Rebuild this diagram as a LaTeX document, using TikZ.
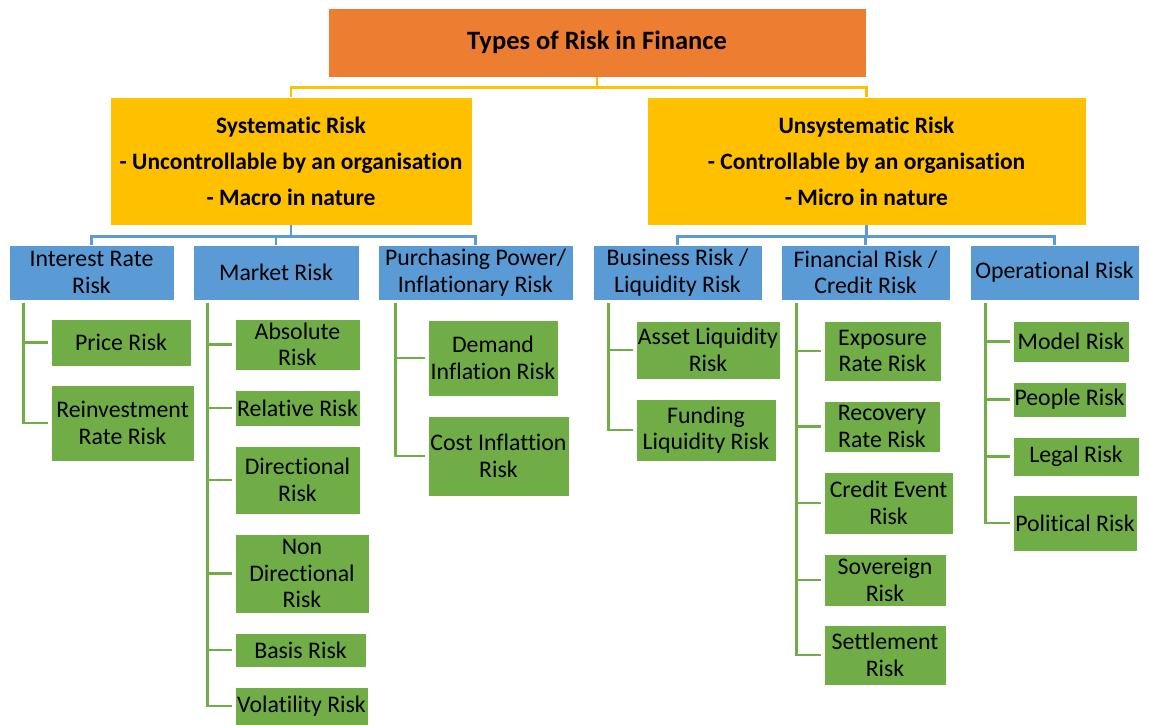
\documentclass[tikz,border=0pt]{standalone}
\usepackage{fontspec}
\setmainfont{Carlito}[Ligatures=NoCommon]
\definecolor{riskorange}{HTML}{ED7D31}
\definecolor{riskyellow}{HTML}{FFC000}
\definecolor{riskblue}{HTML}{5B9BD5}
\definecolor{riskgreen}{HTML}{70AD47}
\begin{document}
\begin{tikzpicture}[x=1pt,y=-1pt,
  box/.style={draw=white,line width=0.6pt,inner sep=0pt,align=center,
    font=\fontsize{23.8}{26.5}\selectfont},
  obox/.style={box,fill=riskorange,font=\bfseries\fontsize{26.5}{30}\selectfont},
  ybox/.style={box,fill=riskyellow,font=\bfseries\fontsize{23.5}{36}\selectfont},
  bbox/.style={box,fill=riskblue,minimum height=55pt},
  gbox/.style={box,fill=riskgreen},
  yline/.style={riskyellow,line width=2.5pt},
  bline/.style={riskblue,line width=2.5pt},
  gline/.style={riskgreen,line width=2.5pt,shorten >=3pt}]
\useasboundingbox (0,0) rectangle (1149,725);

%TITLE
\node[obox,minimum width=538pt,minimum height=69pt] (title) at (597,42.5) {Types of Risk in Finance};

%SYSTEMATIC / UNSYSTEMATIC
\node[ybox,minimum width=362pt,minimum height=128pt] (sys) at (291,161)
  {Systematic Risk\\- Uncontrollable by an organisation\\- Macro in nature};
\node[ybox,minimum width=439pt,minimum height=128pt] (unsys) at (866.5,161)
  {Unsystematic Risk\\- Controllable by an organisation\\- Micro in nature};
\draw[yline] (title.south) -- ++(0,10) -| (sys.north);
\draw[yline] (title.south) -- ++(0,10) -| (unsys.north);

%BLUE ROW
\node[bbox,minimum width=165pt] (irr) at (91.5,272.5) {Interest Rate\\Risk};
\node[bbox,minimum width=166pt] (mkt) at (276,272.5) {Market Risk};
\node[bbox,minimum width=195pt] (ppr) at (475.5,272.5) {Purchasing Power/\\Inflationary Risk};
\node[bbox,minimum width=169pt] (bus) at (677.5,272.5) {Business Risk /\\Liquidity Risk};
\node[bbox,minimum width=169pt] (fin) at (865.5,272.5) {Financial Risk /\\Credit Risk};
\node[bbox,minimum width=169pt] (opr) at (1054.5,272.5) {Operational Risk};
\foreach \b in {irr,mkt,ppr}
  \draw[bline] (sys.south) -- ++(0,11) -| (\b.north);
\foreach \b in {bus,fin,opr}
  \draw[bline] (unsys.south) -- ++(0,11) -| (\b.north);

%INTEREST RATE
\node[gbox,minimum width=140pt,minimum height=47pt] (price) at (121,342.5) {Price Risk};
\node[gbox,minimum width=143pt,minimum height=76pt] (reinv) at (122.5,423) {Reinvestment\\Rate Risk};
\foreach \c in {price,reinv}
  \draw[gline] ([shift={(15,3)}]irr.south west) |- (\c.west);

%MARKET
\node[gbox,minimum width=125pt,minimum height=51pt] (absol) at (297.5,344.5) {Absolute\\Risk};
\node[gbox,minimum width=125pt,minimum height=36pt] (relat) at (297.5,408) {Relative Risk};
\node[gbox,minimum width=125pt,minimum height=68pt] (direc) at (297.5,480) {Directional\\Risk};
\node[gbox,minimum width=134pt,minimum height=79pt] (nondir) at (302,573.5) {Non\\Directional\\Risk};
\node[gbox,minimum width=131pt,minimum height=34pt] (basis) at (300.5,650) {Basis Risk};
\node[gbox,minimum width=133pt,minimum height=38pt] (volat) at (301.5,706) {Volatility Risk};
\foreach \c in {absol,relat,direc,nondir,basis,volat}
  \draw[gline] ([shift={(15,3)}]mkt.south west) |- (\c.west);

%PURCHASING POWER
\node[gbox,minimum width=130pt,minimum height=76pt] (demand) at (493,358) {Demand\\Inflation Risk};
\node[gbox,minimum width=141pt,minimum height=80pt] (cost) at (498.5,456) {Cost Inflattion\\Risk};
\foreach \c in {demand,cost}
  \draw[gline] ([shift={(18,3)}]ppr.south west) |- (\c.west);

%BUSINESS
\node[gbox,minimum width=144pt,minimum height=58pt] (asset) at (708,350) {Asset Liquidity\\Risk};
\node[gbox,minimum width=140pt,minimum height=62pt] (fund) at (706,430) {Funding\\Liquidity Risk};
\foreach \c in {asset,fund}
  \draw[gline] ([shift={(16,3)}]bus.south west) |- (\c.west);

%FINANCIAL
\node[gbox,minimum width=117pt,minimum height=60pt] (expo) at (882.5,351) {Exposure\\Rate Risk};
\node[gbox,minimum width=116pt,minimum height=51pt] (recov) at (882,426.5) {Recovery\\Rate Risk};
\node[gbox,minimum width=129pt,minimum height=62pt] (event) at (888.5,503) {Credit Event\\Risk};
\node[gbox,minimum width=122pt,minimum height=52pt] (sover) at (885,580) {Sovereign\\Risk};
\node[gbox,minimum width=122pt,minimum height=60pt] (settle) at (885,655) {Settlement\\Risk};
\foreach \c in {expo,recov,event,sover,settle}
  \draw[gline] ([shift={(16,3)}]fin.south west) |- (\c.west);

%OPERATIONAL
\node[gbox,minimum width=116pt,minimum height=41pt] (model) at (1071,341.5) {Model Risk};
\node[gbox,minimum width=113pt,minimum height=35pt] (people) at (1069.5,399.5) {People Risk};
\node[gbox,minimum width=126pt,minimum height=39pt] (legal) at (1076,456.5) {Legal Risk};
\node[gbox,minimum width=124pt,minimum height=56pt] (polit) at (1075,523) {Political Risk};
\foreach \c in {model,people,legal,polit}
  \draw[gline] ([shift={(16,3)}]opr.south west) |- (\c.west);
\end{tikzpicture}
\end{document}
